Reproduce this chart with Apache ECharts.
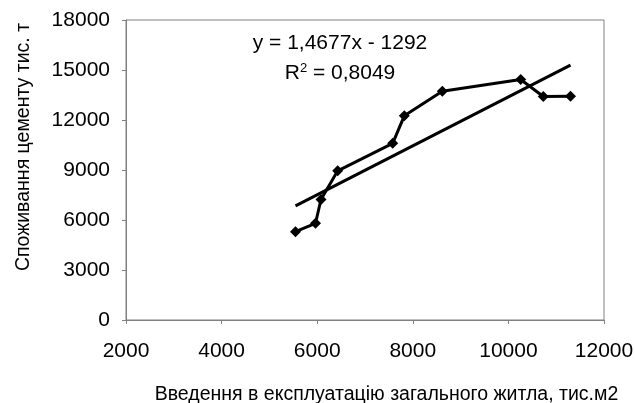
<!DOCTYPE html>
<html>
<head>
<meta charset="utf-8">
<script src="https://cdn.jsdelivr.net/npm/echarts@6/dist/echarts.min.js"></script>
<style>html,body{margin:0;padding:0;background:#fff}#c{width:635px;height:403px}</style>
</head>
<body>
<div id="c"></div>
<script>
var housing = [5546, 5964, 6079, 6429, 7579, 7822, 8617, 10257, 10730, 11299];
var cement  = [5300, 5800, 7230, 8950, 10600, 12250, 13730, 14430, 13410, 13420];
var slope = 1.4677, intercept = -1292;
var xTicks = [2000, 4000, 6000, 8000, 10000, 12000];
var yTicks = [0, 3000, 6000, 9000, 12000, 15000, 18000];
var xName = 'Введення в експлуатацію загального житла, тис.м2';
var yName = 'Споживання цементу тис. т';

var pts = housing.map(function(x, i){ return [x, cement[i]]; });
var xmin = Math.min.apply(null, housing), xmax = Math.max.apply(null, housing);
var trend = [[xmin, slope*xmin + intercept], [xmax, slope*xmax + intercept]];

var FONT = 'Liberation Sans, Arial, sans-serif';
var chart = echarts.init(document.getElementById('c'), null, {renderer:'canvas'});
chart.setOption({
  animation: false,
  backgroundColor: '#fff',
  grid: {left:126, right:31, top:20, bottom:83, containLabel:false, outerBoundsMode:'none',
         show:true, borderColor:'#808080', borderWidth:1, backgroundColor:'transparent'},
  xAxis: {
    type:'value', min:xTicks[0], max:xTicks[xTicks.length-1], interval:2000,
    axisLine:{show:true, lineStyle:{color:'#808080', width:1}},
    axisTick:{show:true, length:4, lineStyle:{color:'#808080'}},
    splitLine:{show:false},
    axisLabel:{color:'#000', fontFamily:FONT, fontSize:21, margin:21, formatter:function(v){return String(v);}},
    name: xName, nameLocation:'middle', nameGap:65,
    nameTextStyle:{color:'#000', fontFamily:FONT, fontSize:19.5, padding:[0,0,0,43]}
  },
  yAxis: {
    type:'value', min:yTicks[0], max:yTicks[yTicks.length-1], interval:3000,
    axisLine:{show:true, lineStyle:{color:'#808080', width:1}},
    axisTick:{show:true, length:4, lineStyle:{color:'#808080'}},
    splitLine:{show:false},
    axisLabel:{color:'#000', fontFamily:FONT, fontSize:21, margin:16, formatter:function(v){return String(v);}},
    name: yName, nameLocation:'middle', nameGap:92,
    nameTextStyle:{color:'#000', fontFamily:FONT, fontSize:19.5, padding:[0,0,0,46]}
  },
  series: [
    {
      type:'line', data: pts, symbol:'diamond', symbolSize:11,
      lineStyle:{color:'#000', width:3}, itemStyle:{color:'#000'}, z:3
    },
    {
      type:'line', data: trend, symbol:'none',
      lineStyle:{color:'#000', width:3}, z:2
    }
  ],
  graphic: [
    {type:'text', x:340, y:43, style:{text:'y = 1,4677x - 1292', fontFamily:FONT, fontSize:21, fill:'#000', align:'center', verticalAlign:'middle'}},
    {type:'text', x:340, y:73, style:{text:'R{s|2} = 0,8049', rich:{s:{fontSize:13, verticalAlign:'top', padding:[0,0,10,0], fontFamily:FONT}}, fontFamily:FONT, fontSize:21, fill:'#000', align:'center', verticalAlign:'middle'}}
  ]
});
</script>
</body>
</html>
